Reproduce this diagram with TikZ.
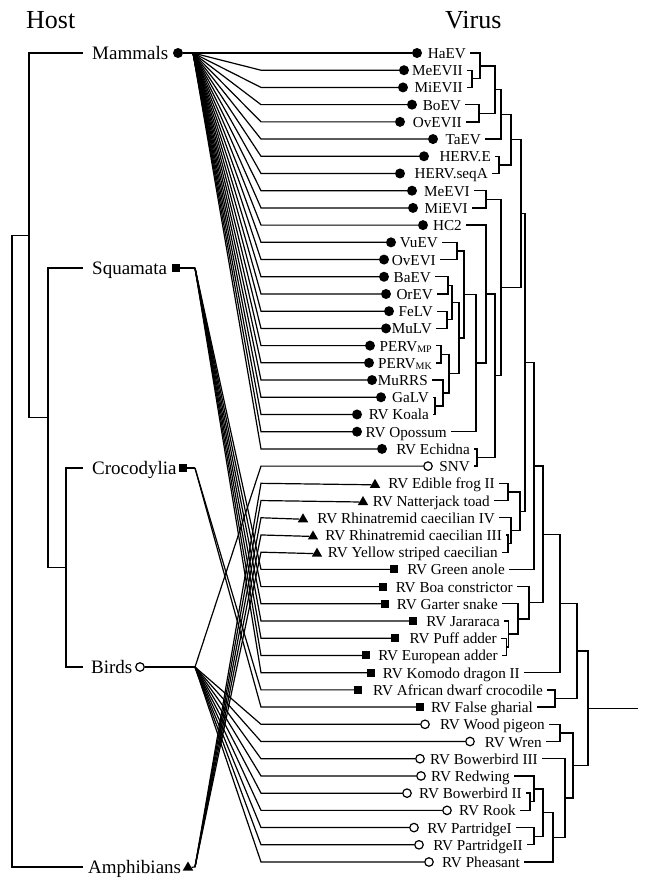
\documentclass[tikz,border=0pt]{standalone}
\usepackage{fontspec}
\setmainfont{Liberation Serif}
\usetikzlibrary{shapes.geometric}
\newcommand\vsz{\fontsize{15.2}{17}\selectfont}
\newcommand\hsz{\fontsize{19}{22}\selectfont}
\newcommand\tsz{\fontsize{26}{30}\selectfont}
\newcommand\subtx[1]{\raisebox{-1.2pt}{\fontsize{10}{11}\selectfont #1}}
\newcommand\cladeline[4]{%
  \path (#3) -- (#4) coordinate[pos=0.5] (#1m);
  \coordinate (#1x) at (#2,0);
  \coordinate (#1) at (#1m -| #1x);
  \draw[tree] (#3) -- (#3 -| #1) -- (#4 -| #1) -- (#4);
}
\begin{document}
\begin{tikzpicture}[x=1pt,y=-1pt,
  tree/.style={line width=1.35pt},
  fan/.style={line width=1.2pt},
  mkc/.style={circle,fill=black,inner sep=0pt,minimum size=10pt},
  mko/.style={circle,draw=black,fill=white,line width=1.2pt,inner sep=0pt,minimum size=8.5pt},
  mks/.style={rectangle,fill=black,inner sep=0pt,minimum size=8pt},
  mkt/.style={regular polygon,regular polygon sides=3,fill=black,inner sep=0pt,minimum size=12pt,yshift=-1.5pt},
  vlab/.style={anchor=base east,inner sep=0pt,font=\vsz},
  hlab/.style={anchor=base west,inner sep=0pt,font=\hsz},
  ttl/.style={anchor=base west,inner sep=0pt,font=\tsz}]
\useasboundingbox (0,0) rectangle (645,884);
\fill[white] (0,0) rectangle (645,884);

% titles
\node[ttl] (ttlH) at (26,28) {Host};
\node[ttl] (ttlV) at (445,28) {Virus};

% host labels and markers
\node[hlab] (lM) at (92,59) {Mammals};
\node[mkc] (mM) at (178,53) {};
\node[hlab] (lS) at (92,274) {Squamata};
\node[mks] (mS) at (176,268) {};
\node[hlab] (lC) at (92,474) {Crocodylia};
\node[mks] (mC) at (183,468) {};
\node[hlab] (lB) at (91,673) {Birds};
\node[mko] (mB) at (140,667) {};
\node[hlab] (lA) at (88,873) {Amphibians};
\node[mkt] (mA) at (188,866) {};
\coordinate (hM) at (193,53);
\coordinate (hS) at (195,268);
\coordinate (hC) at (195,468);
\coordinate (hB) at (195,667);
\coordinate (hA) at (195,867);
\draw[fan] (mM) -- (hM);
\draw[fan] (mS) -- (hS);
\draw[fan] (mC) -- (hC);
\draw[fan] (mB) -- (hB);
\draw[fan] (mA) -- (hA);

% host tree
\coordinate (eM) at (83,53);
\coordinate (eS) at (83,268);
\coordinate (eC) at (83,468);
\coordinate (eB) at (83,667);
\coordinate (eA) at (83,867);
\cladeline{hn3}{66}{eC}{eB}
\cladeline{hn2}{48}{eS}{hn3}
\cladeline{hn1}{29}{eM}{hn2}
\cladeline{hn0}{12}{hn1}{eA}

% virus taxa
\foreach \i/\mk/\mx/\tr/\txt in {
1/mkc/417/466/HaEV,
2/mkc/404/463/MeEVII,
3/mkc/403/463/MiEVII,
4/mkc/412/461/BoEV,
5/mkc/400/462/OvEVII,
6/mkc/433/481/TaEV,
7/mkc/424/491/HERV.E,
8/mkc/400/488/HERV.seqA,
9/mkc/412/470/MeEVI,
10/mkc/413/468/MiEVI,
11/mkc/423/462/HC2,
12/mkc/391/438/VuEV,
13/mkc/384/436/OvEVI,
14/mkc/384/431/BaEV,
15/mkc/386/433/OrEV,
16/mkc/389/433/FeLV,
17/mkc/386/432/MuLV,
18/mkc/370/432/PERV\subtx{MP},
19/mkc/369/432/PERV\subtx{MK},
20/mkc/372/428/MuRRS,
21/mkc/381/429/GaLV,
22/mkc/357/429/RV Koala,
23/mkc/357/447/RV Opossum,
24/mkc/382/470/RV Echidna,
25/mko/428/470/SNV,
26/mkt/375/495/RV Edible frog II,
27/mkt/363/490/RV Natterjack toad,
28/mkt/303/495/RV Rhinatremid caecilian IV,
29/mkt/313/502/RV Rhinatremid caecilian III,
30/mkt/317/498/RV Yellow striped caecilian,
31/mks/394/505/RV Green anole,
32/mks/383/513/RV Boa constrictor,
33/mks/385/498/RV Garter snake,
34/mks/413/500/RV Jararaca,
35/mks/395/497/RV Puff adder,
36/mks/366/498/RV European adder,
37/mks/371/520/RV Komodo dragon II,
38/mks/358/543/RV African dwarf crocodile,
39/mks/420/533/RV False gharial,
40/mko/425/545/RV Wood pigeon,
41/mko/470/542/RV Wren,
42/mko/420/538/RV Bowerbird III,
43/mko/421/510/RV Redwing,
44/mko/407/522/RV Bowerbird II,
45/mko/447/516/RV Rook,
46/mko/414/512/RV PartridgeI,
47/mko/419/523/RV PartridgeII,
48/mko/429/520/RV Pheasant} {
  \pgfmathsetmacro\yy{53+(\i-1)*17.2128}
  \node[vlab] (v\i) at (\tr,\yy+5.5) {\txt};
  \node[\mk] (m\i) at (\mx,\yy) {};
  \coordinate (t\i) at (\tr+4,\yy);
  \coordinate (b\i) at (261,\yy);
}

% virus tree
\cladeline{nA1}{472}{t2}{t3}
\cladeline{nA2}{480}{t1}{nA1}
\cladeline{nA3}{479}{t4}{t5}
\cladeline{nA4}{495}{nA2}{nA3}
\cladeline{nA5}{501}{nA4}{t6}
\cladeline{nA6}{499}{t7}{t8}
\cladeline{nA7}{511}{nA5}{nA6}
\cladeline{nB1}{486}{t9}{t10}
\cladeline{nB2}{457}{t12}{t13}
\cladeline{nB3}{448}{t14}{t15}
\cladeline{nB4}{447}{t16}{t17}
\cladeline{nB5}{452}{nB3}{nB4}
\cladeline{nB6}{441}{t18}{t19}
\cladeline{nB7}{435}{t21}{t22}
\cladeline{nB8}{443}{t20}{nB7}
\cladeline{nB9}{449}{nB6}{nB8}
\cladeline{nB10}{459}{nB5}{nB9}
\cladeline{nB11}{464}{nB2}{nB10}
\cladeline{nB12}{476}{nB11}{t23}
\cladeline{nB13}{486}{t11}{nB12}
\cladeline{nB14}{477}{t24}{t25}
\cladeline{nB15}{495}{nB13}{nB14}
\cladeline{nB16}{501}{nB1}{nB15}
\cladeline{nC1}{521}{nA7}{nB16}
\cladeline{nD1}{508}{t26}{t27}
\cladeline{nD2}{508}{t29}{t30}
\cladeline{nD3}{511}{t28}{nD2}
\cladeline{nD4}{520}{nD1}{nD3}
\cladeline{nC2}{525}{nC1}{nD4}
\cladeline{nC3}{534}{nC2}{t31}
\cladeline{nE1}{506.7}{t35}{t36}
\cladeline{nE2}{508.5}{t34}{nE1}
\cladeline{nE3}{518}{t33}{nE2}
\cladeline{nE4}{529}{t32}{nE3}
\cladeline{nC4}{543}{nC3}{nE4}
\cladeline{nC5}{560}{nC4}{t37}
\cladeline{nF1}{555}{t38}{t39}
\cladeline{nC6}{577}{nC5}{nF1}
\cladeline{nG1}{560}{t40}{t41}
\cladeline{nG2}{530}{t44}{t45}
\cladeline{nG3}{534}{t43}{nG2}
\cladeline{nG4}{534}{t46}{t47}
\cladeline{nG5}{543}{nG3}{nG4}
\cladeline{nG6}{553}{nG5}{t48}
\cladeline{nG7}{565}{t42}{nG6}
\cladeline{nG8}{573}{nG1}{nG7}
\cladeline{root}{588}{nC6}{nG8}
\coordinate (rootend) at (638,0);
\draw[tree] (root) -- (root -| rootend);

% host-virus associations
\foreach \i in {1,...,24} {\draw[fan] (hM) -- (b\i) -- (m\i);}
\foreach \i in {25,40,41,42,43,44,45,46,47,48} {\draw[fan] (hB) -- (b\i) -- (m\i);}
\foreach \i in {26,...,30} {\draw[fan] (hA) -- (b\i) -- (m\i);}
\foreach \i in {31,...,37} {\draw[fan] (hS) -- (b\i) -- (m\i);}
\foreach \i in {38,39} {\draw[fan] (hC) -- (b\i) -- (m\i);}
\end{tikzpicture}
\end{document}
